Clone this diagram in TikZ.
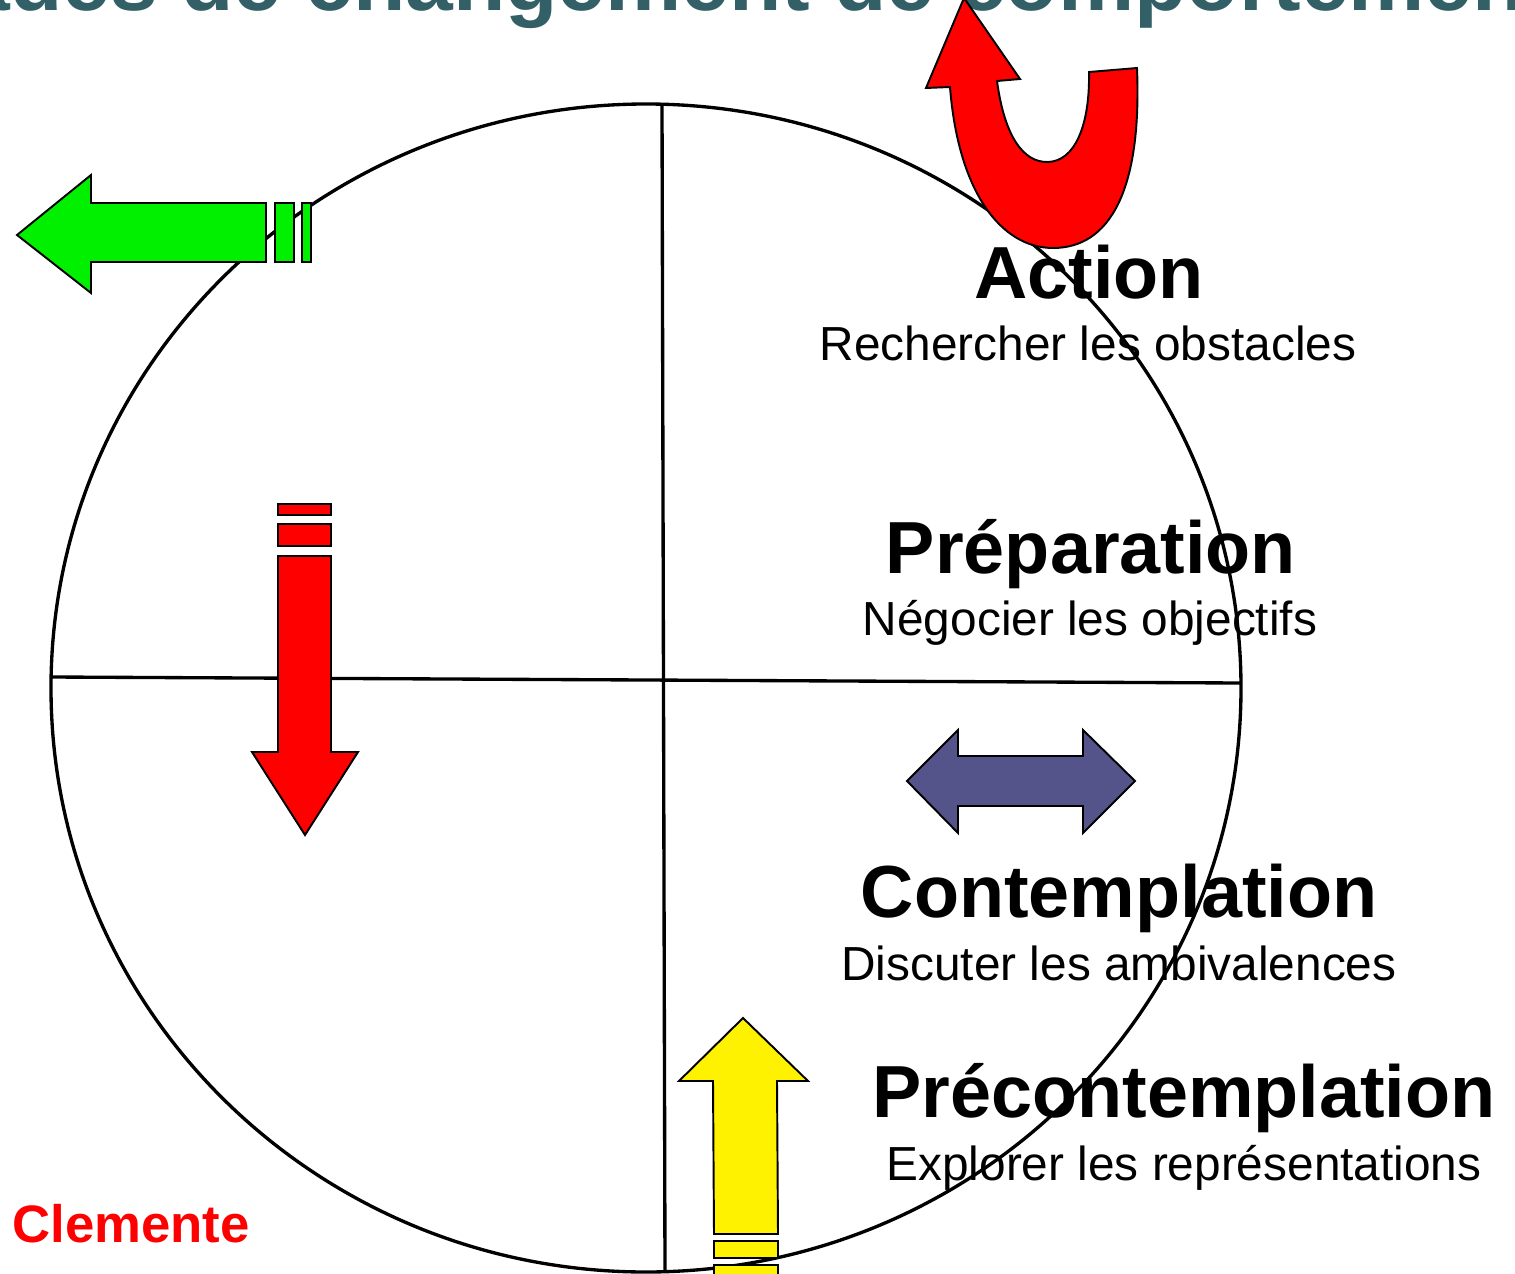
\documentclass[tikz,border=0pt]{standalone}
\usepackage{fontspec}
\setmainfont{Liberation Sans}
\usepackage{tikz}
\definecolor{titleteal}{RGB}{51,96,102}
\definecolor{lime}{RGB}{0,240,0}
\definecolor{slateblue}{RGB}{84,84,138}
\tikzset{
  stage/.style={anchor=base, inner sep=0pt, font=\fontsize{42}{42}\selectfont\bfseries},
  task/.style={anchor=base, inner sep=0pt, font=\fontsize{27.2}{27.2}\selectfont},
  arrowshape/.style={draw=black, line width=1.1pt, line join=miter}
}

\begin{document}
\begin{tikzpicture}[x=0.02cm, y=-0.02cm]
		%%%%% START %%%%%
		\useasboundingbox (0, 0) rectangle (1515, 1274);
		\begin{scope}
		\clip (0, 0) rectangle (1515, 1274);
		
		% title, cut off by the top edge
		\node[anchor=base west, inner sep=0pt, color=titleteal, font=\fontsize{48.8}{48.8}\selectfont\bfseries] (title) at (-38, 11) {ades de changement de comportement};
		
		% wheel
		\draw[line width=1.9pt] (646, 688) ellipse (595 and 584);
		\draw[line width=1.9pt] (662, 105) -- (665, 1272);
		\draw[line width=1.9pt] (51, 677) -- (1240, 683);
		
		% green arrow (sortie)
		\draw[arrowshape, fill=lime] (17, 235) -- (91, 175) -- (91, 203) -- (266, 203) -- (266, 262) -- (91, 262) -- (91, 293) -- cycle;
		\draw[arrowshape, fill=lime] (275, 203) rectangle (294, 262);
		\draw[arrowshape, fill=lime] (302, 203) rectangle (311, 262);
		
		% red arrow (rechute)
		\draw[arrowshape, fill=red] (278, 504) rectangle (331, 515);
		\draw[arrowshape, fill=red] (278, 524) rectangle (331, 546);
		\draw[arrowshape, fill=red] (278, 556) -- (331, 556) -- (331, 752) -- (358, 752) -- (305, 835) -- (252, 752) -- (278, 752) -- cycle;
		
		% blue double arrow
		\draw[arrowshape, fill=slateblue] (907, 781) -- (958, 730) -- (958, 756) -- (1083, 756) -- (1083, 730) -- (1135, 781) -- (1083, 833) -- (1083, 806) -- (958, 806) -- (958, 833) -- cycle;
		
		% yellow arrow (entree)
		\draw[arrowshape, fill=yellow] (743, 1018) -- (808, 1081) -- (777, 1081) -- (778, 1234) -- (714, 1234) -- (713, 1081) -- (679, 1081) -- cycle;
		\draw[arrowshape, fill=yellow] (714, 1241) rectangle (778, 1258);
		\draw[arrowshape, fill=yellow] (714, 1265) rectangle (778, 1280);
		
		% red U-turn arrow
		\draw[arrowshape, fill=red] (1137, 68) .. controls (1142, 190) and (1110, 248) .. (1053, 248)
			.. controls (1000, 248) and (958, 190) .. (950, 87)
			-- (926, 88) -- (964, -2) -- (1020, 79) -- (997, 81)
			.. controls (1005, 140) and (1025, 162) .. (1047, 162)
			.. controls (1075, 162) and (1090, 125) .. (1089, 72) -- cycle;
		
		% stages
		\node[stage] (action) at (1089, 298) {Action};
		\node[task] (actiontask) at (1088, 360) {Rechercher les obstacles};
		\node[stage] (preparation) at (1091, 573) {Préparation};
		\node[task] (preparationtask) at (1090, 635) {Négocier les objectifs};
		\node[stage] (contemplation) at (1119, 917) {Contemplation};
		\node[task] (contemplationtask) at (1119, 980) {Discuter les ambivalences};
		\node[stage] (precontemplation) at (1184, 1117) {Précontemplation};
		\node[task] (precontemplationtask) at (1184, 1180) {Explorer les représentations};
		
		\node[anchor=base west, inner sep=0pt, color=red, font=\fontsize{30}{30}\selectfont\bfseries] (author) at (12, 1242) {Clemente};
		\end{scope}
		%%%%% END %%%%%
\end{tikzpicture}
\end{document}
